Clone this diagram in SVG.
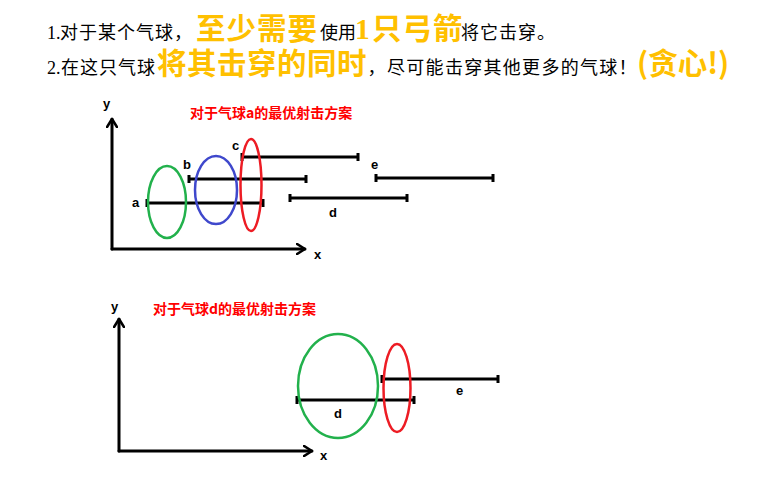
<svg xmlns="http://www.w3.org/2000/svg" width="766" height="487" viewBox="0 0 766 487">
<style>
.cjk{font-family:"Noto Sans CJK SC","Liberation Sans",sans-serif;fill:#000}
.num{font-family:"Liberation Serif","Noto Sans CJK SC",serif}
.big{font-size:29.5px;font-weight:bold;fill:#FFC000;letter-spacing:1px}
.sm{font-size:18px;letter-spacing:1px}
.nsp{letter-spacing:0}
.title{font-family:"Noto Sans CJK SC","Liberation Sans",sans-serif;font-size:14px;font-weight:bold;fill:#FF0000}
.lbl{font-family:"Liberation Sans","DejaVu Sans",sans-serif;font-size:13px;font-weight:bold;fill:#000}
.seg{stroke:#000;stroke-width:3;fill:none}
.axis{stroke:#000;stroke-width:3;fill:none;stroke-linecap:round;stroke-linejoin:round}
.ell{fill:none;stroke-width:2.5}
</style>
<defs>
<marker id="arr" viewBox="0 0 10 12" refX="9" refY="6" markerWidth="10" markerHeight="12" markerUnits="userSpaceOnUse" orient="auto">
<path d="M1,1 L9,6 L1,11" fill="none" stroke="#000" stroke-width="2.6" stroke-linecap="round" stroke-linejoin="round"/>
</marker>
</defs>
<g id="header">
<text class="cjk" y="39"><tspan class="num sm nsp" x="47">1.</tspan><tspan class="sm" x="60">对于某个气球，</tspan><tspan class="big" x="196">至少需要</tspan><tspan class="sm nsp" x="320">使用</tspan><tspan class="big num nsp" x="355">1</tspan><tspan class="big" x="372">只弓箭</tspan><tspan class="sm" x="461">将它击穿。</tspan></text>
<text class="cjk" y="74"><tspan class="num sm nsp" x="47">2.</tspan><tspan class="sm" x="61">在这只气球</tspan><tspan class="big" x="157" style="letter-spacing:0.5px">将其击穿的同时</tspan><tspan class="sm nsp" x="367.5">，</tspan><tspan class="sm" x="387" style="letter-spacing:1.3px">尽可能击穿其他更多的气球！</tspan><tspan class="big nsp" x="637">(贪心!)</tspan></text>
</g>
<g id="panel-a">
<text class="title" x="190" y="118">对于气球a的最优射击方案</text>
<g id="connectors-a">
<path class="axis" d="M112,249 L112,119" marker-end="url(#arr)"/>
<path class="axis" d="M112,249 L305,249" marker-end="url(#arr)"/>
</g>
<text class="lbl" x="103" y="108">y</text>
<text class="lbl" x="314" y="259">x</text>
<g id="seg-a"><path class="seg" d="M147,203 H263 M147,199 V207 M263,199 V207"/><text class="lbl" x="132" y="207">a</text></g>
<g id="seg-b"><path class="seg" d="M189,179 H306 M189,175 V183 M306,175 V183"/><text class="lbl" x="183" y="169">b</text></g>
<g id="seg-c"><path class="seg" d="M242,157 H358 M242,153 V161 M358,153 V161"/><text class="lbl" x="232" y="150">c</text></g>
<g id="seg-d"><path class="seg" d="M290,198 H407 M290,194 V202 M407,194 V202"/><text class="lbl" x="329" y="217">d</text></g>
<g id="seg-e"><path class="seg" d="M376,178 H493 M376,174 V182 M493,174 V182"/><text class="lbl" x="371" y="169">e</text></g>
<g id="balloon-green-a"><ellipse class="ell" cx="167" cy="202" rx="19" ry="36" stroke="#22B14C"/></g>
<g id="balloon-blue-a"><ellipse class="ell" cx="216" cy="190" rx="21" ry="34" stroke="#3F48CC"/></g>
<g id="balloon-red-a"><ellipse class="ell" cx="251" cy="185" rx="10.5" ry="46" stroke="#ED1C24"/></g>
</g>
<g id="panel-d">
<text class="title" x="153" y="314">对于气球d的最优射击方案</text>
<g id="connectors-d">
<path class="axis" d="M119,451 L119,319" marker-end="url(#arr)"/>
<path class="axis" d="M119,451 L312,451" marker-end="url(#arr)"/>
</g>
<text class="lbl" x="111" y="311">y</text>
<text class="lbl" x="320" y="460">x</text>
<g id="seg-d2"><path class="seg" d="M297,400 H414 M297,396 V404 M414,396 V404"/><text class="lbl" x="334" y="418">d</text></g>
<g id="seg-e2"><path class="seg" d="M382,379 H498 M382,375 V383 M498,375 V383"/><text class="lbl" x="456" y="395">e</text></g>
<g id="balloon-green-d"><ellipse class="ell" cx="338" cy="386" rx="40" ry="52" stroke="#22B14C"/></g>
<g id="balloon-red-d"><ellipse class="ell" cx="397" cy="388" rx="13.5" ry="44" stroke="#ED1C24"/></g>
</g>
</svg>
